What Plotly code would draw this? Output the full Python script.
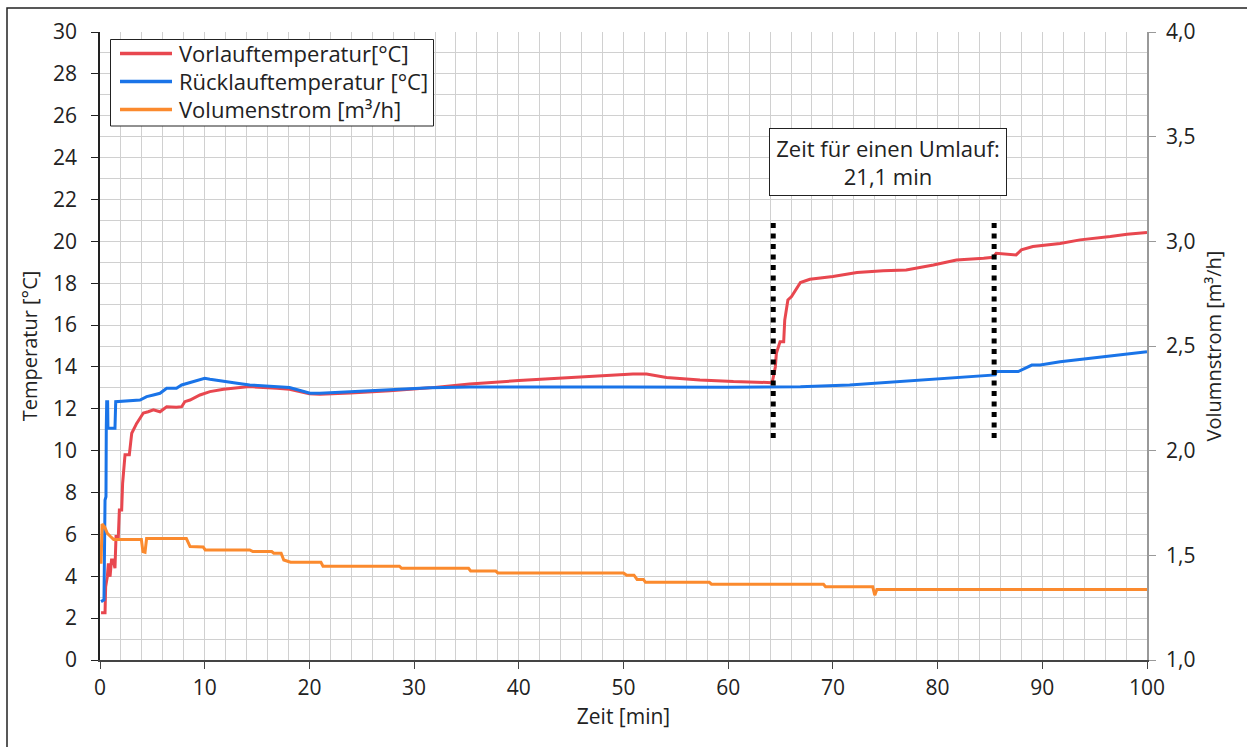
import plotly.graph_objects as go

# ---- data ----
t_vor = [0.1, 0.48, 0.54, 0.7, 0.8, 0.96, 1.1, 1.27, 1.43, 1.53, 1.75, 1.85, 2.07, 2.16, 2.39, 2.8,
         3.03, 3.25, 3.5, 3.82, 4.14, 4.6, 5.1, 5.73, 6.37, 7.3, 7.8, 8.1, 8.6, 9.55, 10.5, 11.8,
         13.4, 14.3, 16.9, 18.1, 20.0, 21.0, 23.9, 27.7, 31.5, 35.3, 40.0, 45.0, 47.8, 50.9, 52.2,
         54.1, 57.3, 60.5, 64.2, 64.5, 64.6, 64.95, 65.3, 65.4, 65.7, 66.05, 66.9, 67.8, 70.0, 72.3,
         74.8, 77.0, 79.6, 81.8, 84.4, 85.3, 85.6, 87.5, 88.0, 89.1, 91.7, 93.6, 96.5, 98.1, 100.0]
T_vor = [2.26, 2.26, 3.5, 3.98, 4.62, 3.98, 4.78, 4.78, 4.38, 5.9, 5.9, 7.17, 7.17, 8.44, 9.8, 9.8,
         10.83, 11.07, 11.3, 11.55, 11.8, 11.86, 11.95, 11.86, 12.1, 12.07, 12.1, 12.34, 12.42, 12.66, 12.82, 12.93,
         13.03, 13.06, 12.98, 12.93, 12.72, 12.7, 12.76, 12.86, 13.0, 13.19, 13.35, 13.5, 13.55, 13.66, 13.66,
         13.5, 13.38, 13.3, 13.25, 14.0, 14.65, 15.2, 15.2, 16.24, 17.2, 17.36, 18.03, 18.19, 18.32, 18.51,
         18.6, 18.63, 18.87, 19.11, 19.19, 19.24, 19.43, 19.35, 19.59, 19.75, 19.9, 20.07, 20.23, 20.34, 20.42]

t_rueck = [0.1, 0.38, 0.48, 0.57, 0.6, 0.64, 0.73, 0.76, 1.43, 1.5, 3.82, 4.46, 5.1, 5.73, 6.37, 7.3,
           7.8, 8.3, 8.9, 10.0, 10.5, 11.8, 13.1, 14.3, 15.6, 18.1, 20.06, 21.0, 23.9, 27.7, 31.5, 35.3,
           40.0, 50.0, 60.0, 64.3, 66.9, 71.6, 76.4, 81.2, 84.4, 85.5, 85.6, 87.7, 89.0, 89.8, 91.7, 93.6,
           95.8, 97.7, 100.0]
T_rueck = [2.79, 2.87, 7.64, 7.8, 11.07, 12.34, 12.34, 11.07, 11.07, 12.34, 12.42, 12.58, 12.66, 12.74, 12.98, 12.98,
           13.14, 13.22, 13.3, 13.46, 13.41, 13.3, 13.22, 13.14, 13.09, 13.02, 12.74, 12.74, 12.82, 12.9, 13.0, 13.04,
           13.05, 13.04, 13.03, 13.03, 13.05, 13.14, 13.3, 13.46, 13.57, 13.62, 13.78, 13.78, 14.09, 14.09, 14.25, 14.36,
           14.49, 14.62, 14.73]

t_vol = [0.1, 0.15, 0.2, 0.45, 0.7, 1.0, 1.3, 3.95, 4.1, 4.3, 4.45, 8.25, 8.6, 9.85, 10.05, 14.3, 14.6,
         16.4, 16.6, 17.3, 17.55, 18.2, 21.1, 21.3, 28.6, 28.8, 35.2, 35.4, 37.8, 38.0, 50.0, 50.3, 51.0,
         51.3, 51.9, 52.1, 58.2, 58.4, 69.1, 69.3, 73.8, 74.0, 74.2, 100.0]
V_vol = [1.46, 1.64, 1.65, 1.635, 1.605, 1.59, 1.576, 1.576, 1.518, 1.515, 1.58, 1.58, 1.542, 1.54, 1.526, 1.526, 1.518,
         1.518, 1.51, 1.51, 1.478, 1.467, 1.467, 1.448, 1.448, 1.438, 1.438, 1.425, 1.425, 1.416, 1.416, 1.405, 1.405,
         1.385, 1.385, 1.371, 1.371, 1.362, 1.362, 1.35, 1.35, 1.31, 1.337, 1.337]

series_names = ["Vorlauftemperatur[°C]", "Rücklauftemperatur [°C]", "Volumenstrom [m³/h]"]
series_colors = ["#E8474F", "#1A74E8", "#FB8A2E"]

umlauf_start = 64.3
umlauf_end = 85.4
marker_y = [10.6, 21.0]
x_ticks = list(range(0, 101, 10))

FONT = "Open Sans"
TXT = "#222222"
GRID = "#d0d0d0"

# pixel -> paper helpers (plot area 100..1147 x 32..660)
L, R, T, B = 100, 1147, 32, 660
def px(x):
    return (x - L) / (R - L)
def py(y):
    return (B - y) / (B - T)

fig = go.Figure()
fig.add_trace(go.Scatter(x=t_vor, y=T_vor, mode="lines", name=series_names[0],
                         line=dict(color=series_colors[0], width=3)))
fig.add_trace(go.Scatter(x=t_rueck, y=T_rueck, mode="lines", name=series_names[1],
                         line=dict(color=series_colors[1], width=3)))
fig.add_trace(go.Scatter(x=t_vol, y=V_vol, mode="lines", name=series_names[2], yaxis="y2",
                         line=dict(color=series_colors[2], width=3)))
for xv in (umlauf_start, umlauf_end):
    fig.add_trace(go.Scatter(x=[xv, xv], y=marker_y, mode="lines", showlegend=False,
                             line=dict(color="black", width=5, dash="5px,5.5px"), hoverinfo="skip"))

fig.add_annotation(x=(umlauf_start + umlauf_end) / 2 + 0.4, y=23.77, xref="x", yref="y",
                   text="Zeit für einen Umlauf:<br>21,1 min", showarrow=False,
                   font=dict(family=FONT, size=22, color=TXT),
                   bgcolor="white", bordercolor="#222", borderwidth=1, borderpad=2,
                   width=232, height=62, align="center")

# outer border (only top/left visible in the frame)
fig.add_shape(type="rect", xref="paper", yref="paper",
              x0=px(7), x1=px(1270), y0=py(770), y1=py(8),
              line=dict(color="#222", width=1.5), fillcolor="rgba(0,0,0,0)", layer="below")

# legend box drawn like the reference (tight row spacing)
fig.add_shape(type="rect", xref="paper", yref="paper",
              x0=px(110.5), x1=px(433.5), y0=py(126), y1=py(39.5),
              line=dict(color="#222", width=1), fillcolor="white", layer="above")
rows = [53.5, 81.5, 109.5]
for name, col, ry in zip(series_names, series_colors, rows):
    fig.add_shape(type="line", xref="paper", yref="paper",
                  x0=px(120), x1=px(172), y0=py(ry), y1=py(ry),
                  line=dict(color=col, width=3.5), layer="above")
    fig.add_annotation(x=px(177), y=py(ry), xref="paper", yref="paper", text=name,
                       showarrow=False, xanchor="left", yanchor="middle",
                       font=dict(family=FONT, size=22, color=TXT))

fig.update_layout(
    width=1247, height=747,
    margin=dict(l=100, r=100, t=32, b=87),
    paper_bgcolor="white", plot_bgcolor="white",
    separators=",.",
    font=dict(family=FONT, size=21, color=TXT),
    showlegend=False,
    xaxis=dict(range=[0, 100], tickvals=x_ticks, showgrid=True, gridcolor=GRID, gridwidth=1,
               minor=dict(dtick=2, showgrid=True, gridcolor=GRID, gridwidth=1),
               showline=True, linecolor="#444", linewidth=1.5, ticks="outside", ticklen=7,
               tickcolor="#444", zeroline=False, ticklabelstandoff=1,
               title=dict(text="Zeit [min]", standoff=9, font=dict(size=21))),
    yaxis=dict(range=[0, 30], dtick=2, showgrid=True, gridcolor=GRID, gridwidth=1,
               minor=dict(dtick=1, showgrid=True, gridcolor=GRID, gridwidth=1),
               showline=True, linecolor="#222", linewidth=1.5, ticks="outside", ticklen=7,
               tickcolor="#222", zeroline=False, ticklabelstandoff=10,
               title=dict(text="Temperatur [°C]", standoff=10, font=dict(size=20))),
    yaxis2=dict(range=[1, 4], dtick=0.5, tickformat=".1f", overlaying="y", side="right",
                showgrid=False, showline=True, linecolor="#999", linewidth=1.5, ticks="outside",
                ticklen=7, tickcolor="#999", zeroline=False, ticklabelstandoff=6,
                title=dict(text="Volumnstrom [m³/h]", standoff=13, font=dict(size=20))),
)

fig.write_html("out.html")
